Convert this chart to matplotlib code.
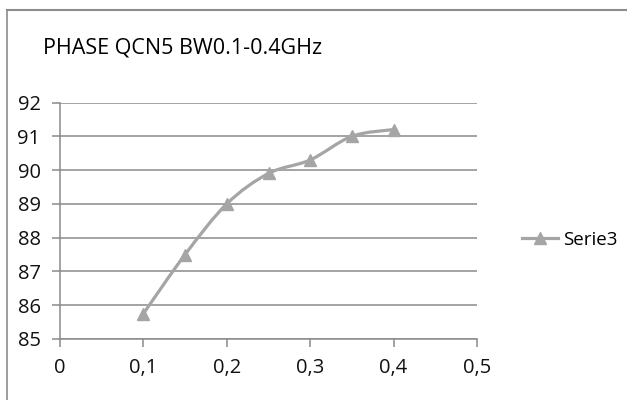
import numpy as np
import matplotlib
matplotlib.use('Agg')
from matplotlib import pyplot as plt
from matplotlib.path import Path
from matplotlib.patches import PathPatch
from matplotlib.lines import Line2D

freq = [0.1, 0.15, 0.2, 0.25, 0.3, 0.35, 0.4]
phase = [85.75, 87.5, 89.0, 89.9, 90.3, 91.0, 91.2]
x_ticks = [0, 0.1, 0.2, 0.3, 0.4, 0.5]
y_ticks = [85, 86, 87, 88, 89, 90, 91, 92]
title = 'PHASE QCN5 BW0.1-0.4GHz'
series_name = 'Serie3'

plt.rcParams['font.family'] = ['Open Sans', 'DejaVu Sans']
LINE = '#a5a5a5'
GRID = '#8a8a8a'


def smooth_path(xs, ys):
	# Excel style smoothed line: catmull-rom turned into cubic beziers
	P = np.column_stack([xs, ys]).astype(float)
	verts = [P[0]]
	codes = [Path.MOVETO]
	n = len(P)
	for i in range(n - 1):
		p0 = P[max(i - 1, 0)]
		p1 = P[i]
		p2 = P[i + 1]
		p3 = P[min(i + 2, n - 1)]
		c1 = p1 + (p2 - p0) / 6
		c2 = p2 - (p3 - p1) / 6
		verts += [c1, c2, p2]
		codes += [Path.CURVE4] * 3
	return Path(verts, codes)


fig = plt.figure(figsize=(6.27, 4.0), dpi=100)
ax = fig.add_axes([60/627, 1 - 339/400, 417/627, (339 - 102.5)/400])

ax.add_patch(PathPatch(smooth_path(freq, phase), fill=False, edgecolor=LINE,
	lw=2.3, zorder=3, capstyle='round', joinstyle='round'))
ax.plot(freq, phase, ls='none', marker='^', ms=9, color=LINE, zorder=4)

ax.set_xlim(0, 0.5)
ax.set_ylim(85, 92)
ax.set_xticks(x_ticks)
ax.set_yticks(y_ticks)
ax.set_xticklabels([('%g' % v).replace('.', ',') for v in x_ticks])
ax.set_yticklabels([str(v) for v in y_ticks])
ax.yaxis.grid(True, color=GRID, lw=1.1)
ax.set_axisbelow(True)
for s in ('top', 'right'):
	ax.spines[s].set_visible(False)
for s in ('left', 'bottom'):
	ax.spines[s].set_color(GRID)
	ax.spines[s].set_linewidth(1.1)
ax.tick_params(axis='both', colors=GRID, labelcolor='#111111', labelsize=14.5, width=1.1, length=6)
ax.tick_params(axis='y', pad=8)
ax.tick_params(axis='x', pad=8)

fig.text(43/627, 1 - 48/400, title, fontsize=15.5, va='center', ha='left')

h = Line2D([], [], color=LINE, lw=2.3, marker='^', ms=9)
ax.legend([h], [series_name], loc='center left', bbox_to_anchor=(522/627, 1 - 240/400),
	bbox_transform=fig.transFigure, frameon=False, fontsize=13.5, handlelength=1.9,
	handletextpad=0.3, borderpad=0, borderaxespad=0)

# chart border (only top and left visible in the crop)
fig.add_artist(Line2D([6.5/627, 6.5/627], [0, 1 - 10/400], color='#8c8c8c', lw=1.2, transform=fig.transFigure))
fig.add_artist(Line2D([6.5/627, 1], [1 - 10/400, 1 - 10/400], color='#8c8c8c', lw=1.5, transform=fig.transFigure))

fig.savefig('out.png', dpi=100)
